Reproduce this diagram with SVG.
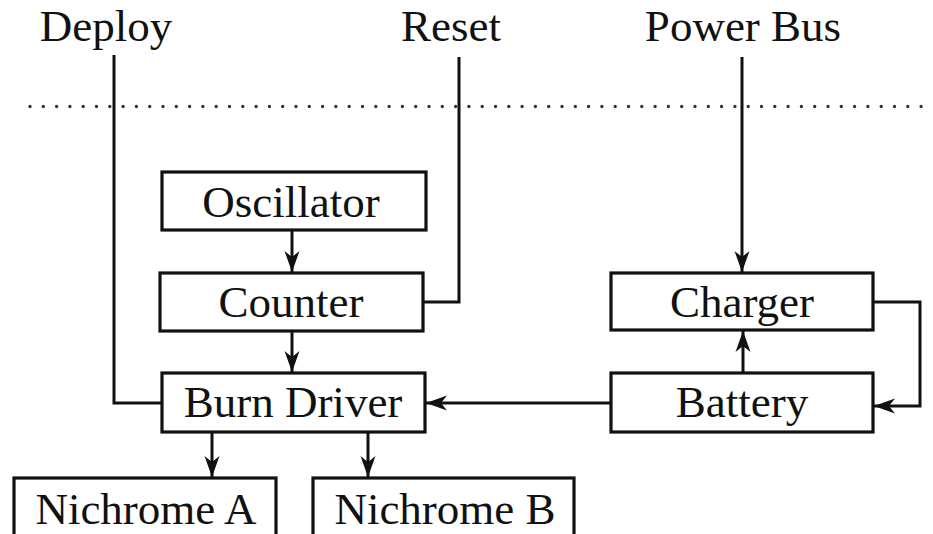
<svg xmlns="http://www.w3.org/2000/svg" width="933" height="534" viewBox="0 0 933 534">
<style>
.box{fill:#fff;stroke:#111;stroke-width:3.2}
.lbl{font-family:"Liberation Serif","Times New Roman",serif;font-size:45px;fill:#111;text-anchor:middle}
.wire{fill:none;stroke:#111;stroke-width:3}
.arr{marker-end:url(#ah)}
.dots{fill:none;stroke:#333;stroke-width:3.4;stroke-linecap:round;stroke-dasharray:0 13.3}
</style>
<defs>
<marker id="ah" markerUnits="userSpaceOnUse" markerWidth="24" markerHeight="18" viewBox="-22 -9 24 18" refX="0" refY="0" orient="auto">
<path d="M0,0 L-21,-7.5 L-15,0 L-21,7.5 Z" fill="#111"/>
</marker>
</defs>
<rect width="933" height="534" fill="#fff"/>
<line class="dots" x1="30" y1="106.5" x2="926" y2="106.5"/>
<g id="connectors">
<path class="wire" d="M114,55 V403 H162"/>
<path class="wire" d="M459,57 V302 H423"/>
<path class="wire arr" d="M742,57 V272"/>
<path class="wire arr" d="M292,230 V272"/>
<path class="wire arr" d="M292,331 V372"/>
<path class="wire arr" d="M611,403 H426"/>
<path class="wire arr" d="M743,373 V331"/>
<path class="wire arr" d="M873,302 H920 V406 H874"/>
<path class="wire arr" d="M212,432 V477"/>
<path class="wire arr" d="M368,432 V477"/>
</g>
<g id="label-deploy"><text class="lbl" x="106" y="41">Deploy</text></g>
<g id="label-reset"><text class="lbl" x="451" y="41">Reset</text></g>
<g id="label-powerbus"><text class="lbl" x="743" y="41">Power Bus</text></g>
<g id="oscillator"><rect class="box" x="162" y="172" width="264" height="58"/><text class="lbl" x="291" y="217">Oscillator</text></g>
<g id="counter"><rect class="box" x="160" y="273" width="263" height="58"/><text class="lbl" x="291" y="317">Counter</text></g>
<g id="burn-driver"><rect class="box" x="162" y="373" width="263" height="59"/><text class="lbl" x="293" y="417">Burn Driver</text></g>
<g id="charger"><rect class="box" x="611" y="273" width="262" height="57"/><text class="lbl" x="742" y="317">Charger</text></g>
<g id="battery"><rect class="box" x="611" y="373" width="262" height="59"/><text class="lbl" x="742" y="417">Battery</text></g>
<g id="nichrome-a"><rect class="box" x="14" y="478" width="262" height="60"/><text class="lbl" x="146" y="524">Nichrome A</text></g>
<g id="nichrome-b"><rect class="box" x="313" y="478" width="261" height="60"/><text class="lbl" x="445" y="524">Nichrome B</text></g>
</svg>
